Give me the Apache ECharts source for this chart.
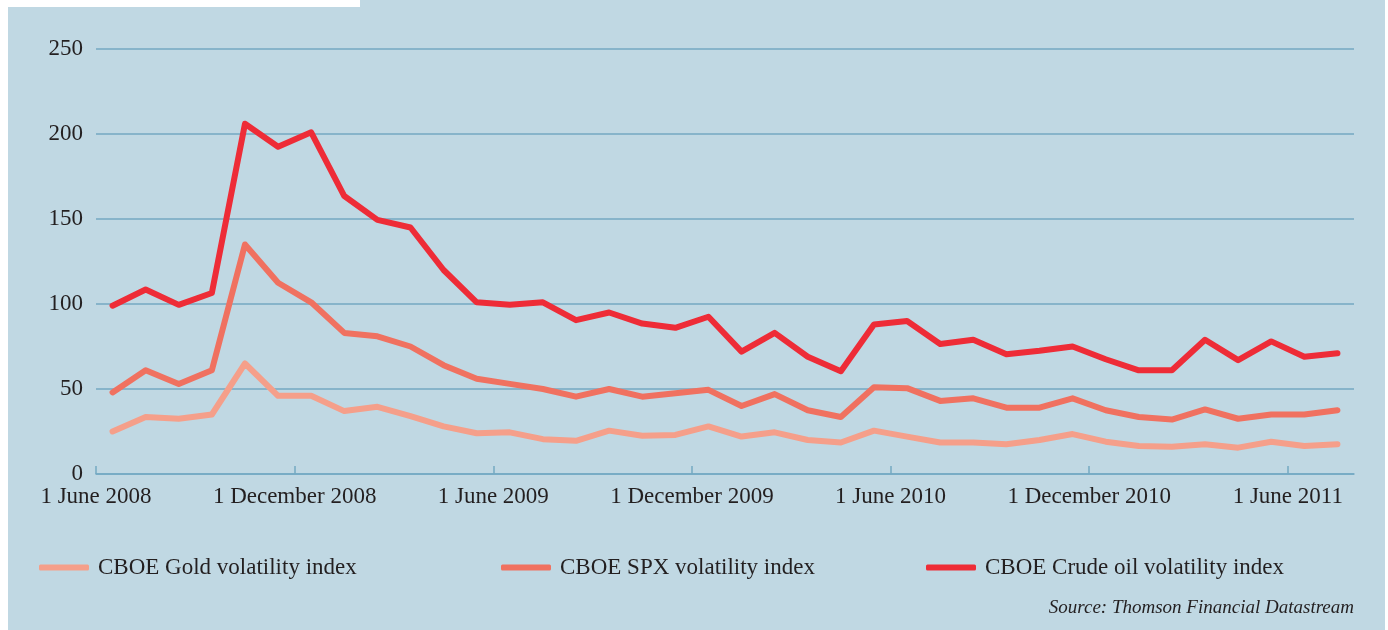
<!DOCTYPE html>
<html>
<head>
<meta charset="utf-8">
<script src="https://cdn.jsdelivr.net/npm/echarts@6/dist/echarts.min.js"></script>
<style>
  html, body { margin: 0; padding: 0; background: #ffffff; }
  #panel { position: absolute; left: 8px; top: 0; width: 1377px; height: 630px; background: #c0d8e3; }
  #notch { position: absolute; left: 0; top: 0; width: 360px; height: 7px; background: #ffffff; }
</style>
</head>
<body>
<div id="panel"></div>
<div id="notch"></div>
<script>
// monthly readings, June 2008 .. July 2011
var months = [
  'Jun 2008','Jul 2008','Aug 2008','Sep 2008','Oct 2008','Nov 2008','Dec 2008',
  'Jan 2009','Feb 2009','Mar 2009','Apr 2009','May 2009','Jun 2009','Jul 2009',
  'Aug 2009','Sep 2009','Oct 2009','Nov 2009','Dec 2009','Jan 2010','Feb 2010',
  'Mar 2010','Apr 2010','May 2010','Jun 2010','Jul 2010','Aug 2010','Sep 2010',
  'Oct 2010','Nov 2010','Dec 2010','Jan 2011','Feb 2011','Mar 2011','Apr 2011',
  'May 2011','Jun 2011','Jul 2011'
];
var tickLabels = ['1 June 2008', '1 December 2008', '1 June 2009', '1 December 2009',
                  '1 June 2010', '1 December 2010', '1 June 2011'];

var gold = [25, 33.5, 32.5, 35, 65, 46, 46, 37, 39.5, 34,
            28, 24, 24.5, 20.5, 19.5, 25.5, 22.5, 23, 28, 22,
            24.5, 20, 18.5, 25.5, 22, 18.5, 18.5, 17.5, 20, 23.5,
            19, 16.5, 16, 17.5, 15.5, 19, 16.5, 17.5];
var spx = [48, 61, 53, 61, 135, 112.5, 101, 83, 81, 75,
           64, 56, 53, 50, 45.5, 50, 45.5, 47.5, 49.5, 40,
           47, 37.5, 33.5, 51, 50.5, 43, 44.5, 39, 39, 44.5,
           37.5, 33.5, 32, 38, 32.5, 35, 35, 37.5];
var crude = [99, 108.5, 99.5, 106.5, 206, 192.5, 201, 163.5, 149.5, 145,
             120, 101, 99.5, 101, 90.5, 95, 88.5, 86, 92.5, 72,
             83, 69, 60.5, 88, 90, 76.5, 79, 70.5, 72.5, 75,
             67.5, 61, 61, 79, 67, 78, 69, 71];

var names = ['CBOE Gold volatility index', 'CBOE SPX volatility index', 'CBOE Crude oil volatility index'];
var colors = ['#f59f8a', '#f07160', '#ee2c37'];
var FONT = '"Liberation Serif", "DejaVu Serif", serif';
var TXT = '#231f20';

// each month sits in the middle of its slot on the time line
function toPoints(arr) {
  return arr.map(function (v, i) { return [i + 0.5, v]; });
}

function mkSeries(name, arr, color) {
  return {
    name: name,
    type: 'line',
    data: toPoints(arr),
    showSymbol: false,
    symbol: 'none',
    color: color,
    lineStyle: { width: 6, color: color, join: 'round', cap: 'round' },
    emphasis: { disabled: true },
    animation: false
  };
}

function mkLegend(i, left) {
  return {
    data: [{ name: names[i], icon: 'roundRect', itemStyle: { color: colors[i] } }],
    left: left,
    top: 551,
    itemWidth: 50,
    itemHeight: 6,
    textStyle: { fontFamily: FONT, fontSize: 23, color: TXT, padding: [0, 0, 0, 4] },
    selectedMode: false
  };
}

try {
  var chart = echarts.init(document.getElementById('panel'));
  chart.setOption({
    backgroundColor: 'transparent',
    animation: false,
    grid: { left: 88, right: 31, top: 49, bottom: 156, containLabel: false },
    legend: [mkLegend(0, 26), mkLegend(1, 488), mkLegend(2, 913)],
    xAxis: {
      type: 'value',
      min: 0,
      max: months.length,
      interval: 6,
      splitLine: { show: false },
      axisLine: { show: true, lineStyle: { color: '#74a9c2', width: 1.5 } },
      axisTick: { show: true, inside: true, length: 8, lineStyle: { color: '#74a9c2', width: 1.5 } },
      axisLabel: {
        fontFamily: FONT, fontSize: 23, color: TXT, margin: 11,
        formatter: function (v) { return tickLabels[Math.round(v / 6)] || ''; }
      }
    },
    yAxis: {
      type: 'value',
      min: 0,
      max: 250,
      interval: 50,
      axisLine: { show: false },
      axisTick: { show: false },
      splitLine: { lineStyle: { color: '#74a9c2', width: 1.5 } },
      axisLabel: { fontFamily: FONT, fontSize: 23, color: TXT, margin: 13 }
    },
    graphic: [{
      type: 'text',
      right: 31,
      top: 598,
      style: {
        text: 'Source: Thomson Financial Datastream',
        font: 'italic 19px ' + FONT,
        fill: TXT
      }
    }],
    series: [
      mkSeries(names[0], gold, colors[0]),
      mkSeries(names[1], spx, colors[1]),
      mkSeries(names[2], crude, colors[2])
    ]
  });
} catch (e) {
  console.log(e);
}
</script>
</body>
</html>
